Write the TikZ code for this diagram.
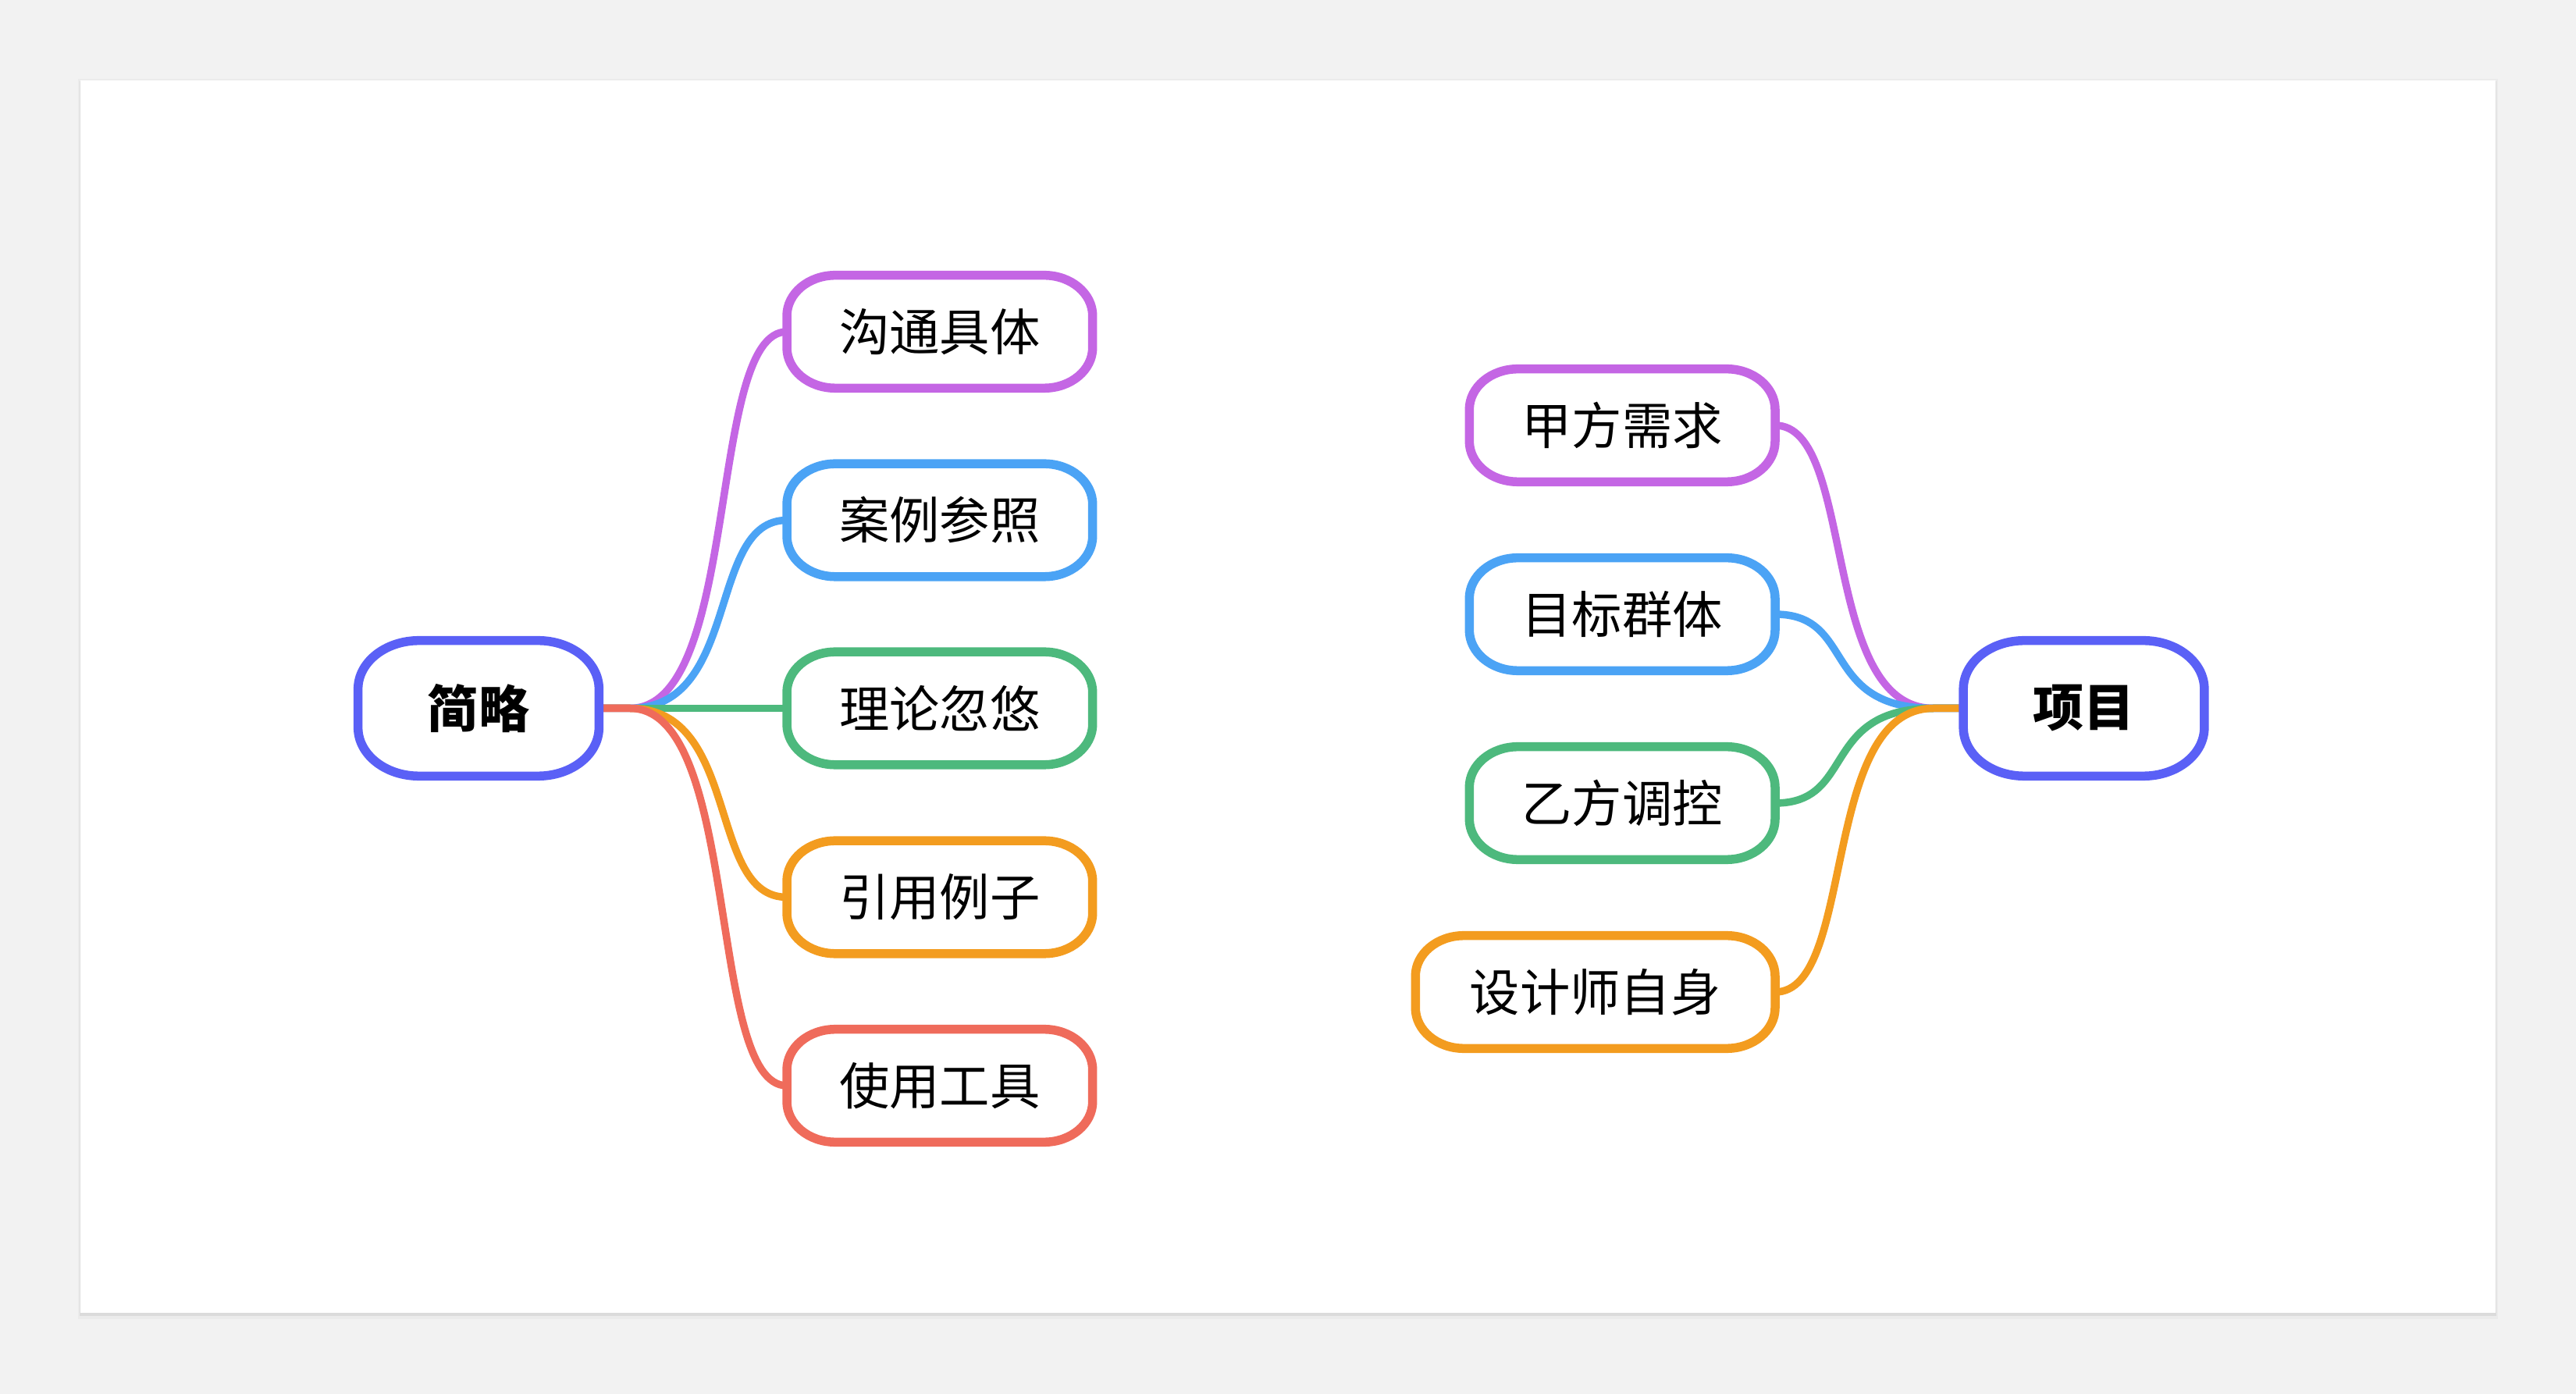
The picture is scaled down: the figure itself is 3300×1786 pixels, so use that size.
\documentclass[tikz,border=0pt]{standalone}
\usepackage{fontspec}
\usetikzlibrary{calc}
\newfontfamily\cjk{Noto Sans CJK SC}
\definecolor{bgc}{HTML}{F2F2F2}
\definecolor{rootc}{HTML}{5A60F6}
\definecolor{purc}{HTML}{C466E4}
\definecolor{bluc}{HTML}{4BA3F5}
\definecolor{grnc}{HTML}{4DB97D}
\definecolor{orac}{HTML}{F39C1F}
\definecolor{redc}{HTML}{EF6B5B}
% border with elliptical corners around a named node: #1 node, #2 colour, #3 x radius, #4 y radius
\newcommand\mmborder[4]{%
  \draw[bord=#2] let \p1=(#1.south west), \p2=(#1.north east) in
    (\x1+#3,\y1) -- (\x2-#3,\y1)
    arc[start angle=-90,end angle=0,x radius=#3,y radius=#4]
    -- (\x2,\y2-#4)
    arc[start angle=0,end angle=90,x radius=#3,y radius=#4]
    -- (\x1+#3,\y2)
    arc[start angle=90,end angle=180,x radius=#3,y radius=#4]
    -- (\x1,\y1+#4)
    arc[start angle=180,end angle=270,x radius=#3,y radius=#4]
    -- cycle;}
\begin{document}
\begin{tikzpicture}[x=0.01cm,y=-0.01cm,
  bord/.style={draw=#1, line width=0.115cm, line join=round},
  rootbox/.style={fill=white, inner sep=0pt, outer sep=0pt,
    minimum width=3.085cm, minimum height=1.735cm,
    font=\cjk\bfseries\fontsize{18.5}{20}\selectfont},
  kidbox/.style={fill=white, inner sep=0pt, outer sep=0pt,
    minimum width=3.915cm, minimum height=1.445cm,
    font=\cjk\fontsize{18.3}{20}\selectfont},
  conn/.style={draw=#1, line width=0.095cm}]
% background and panel
\fill[bgc] (0,0) rectangle (3300,1786);
\fill[black!8] (100,101) rectangle (3200,1690);
\fill[black!14] (102,104) rectangle (3198,1686);
\fill[white] (103,103) rectangle (3197,1682);

% left mind map
\node[rootbox] (r1) at (613,907.5) {简略};
\node[kidbox, anchor=west] (a1) at (1008,425) {沟通具体};
\node[kidbox, anchor=west] (a2) at (1008,666.5) {案例参照};
\node[kidbox, anchor=west] (a3) at (1008,907.5) {理论忽悠};
\node[kidbox, anchor=west] (a4) at (1008,1149.5) {引用例子};
\node[kidbox, anchor=west] (a5) at (1008,1391) {使用工具};
\coordinate (L) at (807,907.5);
\draw[conn=purc] (r1.east) -- (L) .. controls +(143,0) and +(-103,0) .. (a1.west);
\draw[conn=bluc] (r1.east) -- (L) .. controls +(143,0) and +(-103,0) .. (a2.west);
\draw[conn=grnc] (r1.east) -- (L) -- (a3.west);
\draw[conn=orac] (r1.east) -- (L) .. controls +(143,0) and +(-103,0) .. (a4.west);
\draw[conn=redc] (r1.east) -- (L) .. controls +(143,0) and +(-103,0) .. (a5.west);
\mmborder{r1}{rootc}{0.78cm}{0.62cm}
\mmborder{a1}{purc}{0.62cm}{0.52cm}
\mmborder{a2}{bluc}{0.62cm}{0.52cm}
\mmborder{a3}{grnc}{0.62cm}{0.52cm}
\mmborder{a4}{orac}{0.62cm}{0.52cm}
\mmborder{a5}{redc}{0.62cm}{0.52cm}

% right mind map
\node[rootbox] (r2) at (2669.5,907.5) {项目};
\node[kidbox, anchor=east] (b1) at (2274,545) {甲方需求};
\node[kidbox, anchor=east] (b2) at (2274,787) {目标群体};
\node[kidbox, anchor=east] (b3) at (2274,1029) {乙方调控};
\node[kidbox, anchor=east, minimum width=4.605cm] (b4) at (2274,1271) {设计师自身};
\coordinate (R) at (2477,907.5);
\draw[conn=purc] (r2.west) -- (R) .. controls +(-146,0) and +(104,0) .. (b1.east);
\draw[conn=bluc] (r2.west) -- (R) .. controls +(-146,0) and +(104,0) .. (b2.east);
\draw[conn=grnc] (r2.west) -- (R) .. controls +(-146,0) and +(104,0) .. (b3.east);
\draw[conn=orac] (r2.west) -- (R) .. controls +(-146,0) and +(104,0) .. (b4.east);
\mmborder{r2}{rootc}{0.78cm}{0.62cm}
\mmborder{b1}{purc}{0.62cm}{0.52cm}
\mmborder{b2}{bluc}{0.62cm}{0.52cm}
\mmborder{b3}{grnc}{0.62cm}{0.52cm}
\mmborder{b4}{orac}{0.62cm}{0.52cm}
\end{tikzpicture}
\end{document}
